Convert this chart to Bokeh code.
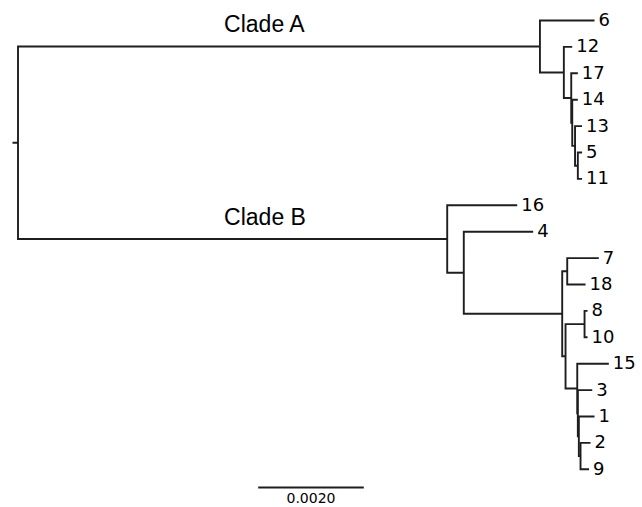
from bokeh.plotting import figure
from bokeh.models import Range1d
from bokeh.embed import file_html
from bokeh.resources import INLINE
from bokeh.core.properties import value

# ---- tree data (child, parent, branch length) ----
node_names = ["A", "6", "A2", "12", "A3", "17", "A4", "14", "A5", "13", "A6", "5", "11",
              "B", "16", "B2", "4", "B3", "B4", "7", "18", "B5", "B6", "8", "10",
              "B7", "15", "B8", "3", "B9", "1", "B10", "2", "9"]
parent_names = ["root", "A", "A", "A2", "A2", "A3", "A3", "A4", "A4", "A5", "A5", "A6", "A6",
                "root", "B", "B", "B2", "B2", "B3", "B4", "B4", "B3", "B5", "B6", "B6",
                "B5", "B7", "B7", "B8", "B8", "B9", "B9", "B10", "B10"]
branch_lengths = [0.009885, 0.001034, 0.000453, 0.000159, 0.000140, 0.000125, 0.000019,
                  0.000106, 0.000053, 0.000133, 0.000053, 0.000080, 0.000080,
                  0.008129, 0.001326, 0.000314, 0.001314, 0.001864, 0.000095, 0.000598,
                  0.000347, 0.000063, 0.000360, 0.000057, 0.000057,
                  0.000222, 0.000598, 0.000011, 0.000273, 0.000019, 0.000297, 0.000032,
                  0.000189, 0.000161]
root_stub = 0.000104
scale_length = 0.002
clade_labels = ["Clade A", "Clade B"]
clade_nodes = ["A", "B"]

# ---- layout ----
children = {}
for n, par in zip(node_names, parent_names):
    children.setdefault(par, []).append(n)
blen = dict(zip(node_names, branch_lengths))
xpos = {"root": 0.0}
ypos = {}
counter = [0]


def layout(n):
    kids = children.get(n, [])
    if not kids:
        ypos[n] = counter[0]
        counter[0] += 1
        return
    for c in kids:
        xpos[c] = xpos[n] + blen[c]
        layout(c)
    ypos[n] = (ypos[kids[0]] + ypos[kids[-1]]) / 2.0


layout("root")

xs_paths, ys_paths = [], []
for n, kids in children.items():
    first, last = kids[0], kids[-1]
    xs_paths.append([xpos[first], xpos[n], xpos[n], xpos[last]])
    ys_paths.append([ypos[first], ypos[first], ypos[last], ypos[last]])
    for c in kids[1:-1]:
        xs_paths.append([xpos[n], xpos[c]])
        ys_paths.append([ypos[c], ypos[c]])

leaves = [n for n in node_names if n not in children]

W, H = 642, 507
px_per_unit = 52800.0
x0 = -17.5 / px_per_unit
x1 = x0 + W / px_per_unit
y_top = -20 / 26.4
y_bot = y_top + H / 26.4

p = figure(width=W, height=H, output_backend="svg", toolbar_location=None,
           x_range=Range1d(x0, x1), y_range=Range1d(y_bot, y_top),
           x_axis_location=None, y_axis_location=None, min_border=0)
p.grid.visible = False
p.outline_line_color = None
p.background_fill_color = "white"
p.border_fill_color = "white"

line_col = "#1e1e1e"
p.multi_line(xs=xs_paths, ys=ys_paths, line_color=line_col, line_width=1.9,
             line_join="miter", line_cap="butt")
p.segment(x0=[-root_stub], y0=[ypos["root"]], x1=[0], y1=[ypos["root"]],
          line_color=line_col, line_width=1.9)

p.text(x=[xpos[n] for n in leaves], y=[ypos[n] for n in leaves], text=leaves,
       x_offset=4, y_offset=-1, text_baseline="middle", text_align="left",
       text_font=value("DejaVu Sans"), text_font_size="18px", text_color="black")

clade_x = 0.004678
p.text(x=[clade_x] * len(clade_nodes), y=[ypos[n] for n in clade_nodes], text=clade_labels,
       y_offset=-22, text_align="center", text_baseline="alphabetic",
       text_font=value("Liberation Sans"), text_font_size="23px", text_color="black")

# scale bar
sb_x = 0.004549
sb_y = 17.69
p.segment(x0=[sb_x], y0=[sb_y], x1=[sb_x + scale_length], y1=[sb_y],
          line_color=line_col, line_width=1.9)
p.text(x=[sb_x + scale_length / 2], y=[sb_y], text=[f"{scale_length:.4f}"],
       y_offset=10, text_align="center", text_baseline="alphabetic",
       text_font=value("DejaVu Sans"), text_font_size="14px", text_color="black")

open("out.html", "w").write(file_html(p, INLINE))
